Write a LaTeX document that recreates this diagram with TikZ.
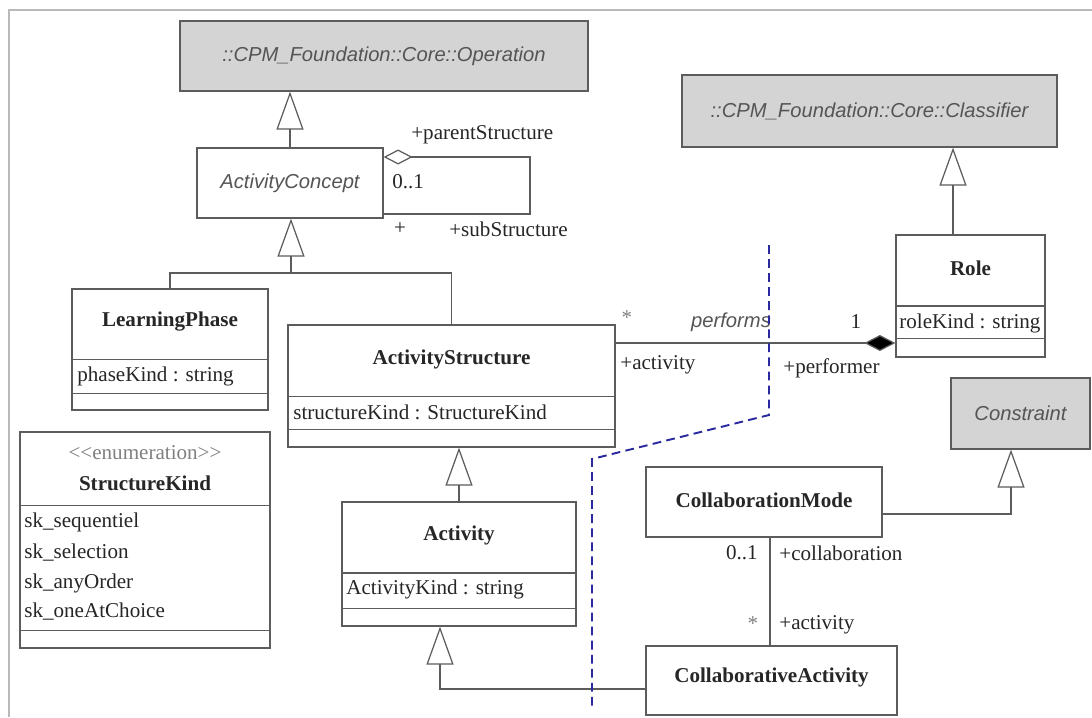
\documentclass[tikz,border=0pt]{standalone}
\usepackage{fontspec}
\setmainfont{Liberation Serif}
\setsansfont{Liberation Sans}
\usepackage{xcolor}
\usepackage{tikz}
\usetikzlibrary{arrows.meta,positioning}

\definecolor{umlline}{HTML}{5C5C5C}
\definecolor{absfill}{HTML}{D4D4D4}
\definecolor{abstext}{HTML}{555555}
\definecolor{cutline}{HTML}{2A2A9E}

\tikzset{
  classbox/.style={draw=umlline, line width=0.7pt, fill=white, inner sep=0pt},
  absbox/.style={classbox, fill=absfill, text=abstext,
    font=\fontsize{11.5}{13}\selectfont\sffamily\itshape},
  cname/.style={font=\fontsize{12}{14}\selectfont\bfseries, text=black!85, inner sep=0pt},
  attr/.style={anchor=west, font=\fontsize{12}{14}\selectfont, text=black!85, inner sep=0pt},
  endlbl/.style={font=\fontsize{12}{14}\selectfont, text=black!85, inner sep=0pt},
  gen/.style={draw=umlline, line width=0.7pt,
    -{Triangle[open, length=7.6mm, width=5.4mm, fill=white]}},
  assoc/.style={draw=umlline, line width=0.7pt},
  cut/.style={draw=cutline, line width=1.1pt, dash pattern=on 5pt off 3pt},
}

\begin{document}
\begin{tikzpicture}[x=0.02cm, y=-0.02cm]
	\useasboundingbox (0,0) rectangle (1092,717);
	% frame
	\draw[gray!55, line width=1.2pt] (9,717) -- (9,10) -- (1092,10);

	% abstract parents
	\node[absbox, minimum width=8.16cm, minimum height=1.4cm] (op) at (384,56)
	     {::CPM\_Foundation::Core::Operation};
	\node[absbox, minimum width=7.5cm, minimum height=1.44cm] (cls) at (869.5,111)
	     {::CPM\_Foundation::Core::Classifier};
	\node[absbox, minimum width=2.78cm, minimum height=1.42cm] (constr) at (1020.5,413.5)
	     {Constraint};
	\node[classbox, text=abstext, font=\fontsize{11.5}{13}\selectfont\sffamily\itshape,
	      minimum width=3.72cm, minimum height=1.4cm] (concept) at (290,183) {ActivityConcept};

	% LearningPhase
	\node[classbox, minimum width=3.92cm, minimum height=2.42cm] (phase) at (170,349.5) {};
	\node[cname] (phase-name) at (170,322) {LearningPhase};
	\node[attr] (phase-kind) at (77,376) {phaseKind : string};
	\draw[umlline] (phase.west |- 0,359) -- (phase.east |- 0,359)
	               (phase.west |- 0,393) -- (phase.east |- 0,393);

	% StructureKind
	\node[classbox, minimum width=5cm, minimum height=4.32cm] (skind) at (145,540) {};
	\node[endlbl, text=gray] (skind-stereo) at (145,453)
	     {<\kern0pt<enumeration>\kern0pt>};
	\node[cname] (skind-name) at (145,483) {StructureKind};
	\draw[umlline] (skind.west |- 0,505) -- (skind.east |- 0,505)
	               (skind.west |- 0,630) -- (skind.east |- 0,630);
	\node[attr] (sk1) at (24,522) {sk\_sequentiel};
	\node[attr] (sk2) at (24,553) {sk\_selection};
	\node[attr] (sk3) at (24,583) {sk\_anyOrder};
	\node[attr] (sk4) at (24,612) {sk\_oneAtChoice};

	% ActivityStructure
	\node[classbox, minimum width=6.54cm, minimum height=2.44cm] (astruct) at (451.5,386) {};
	\node[cname] (astruct-name) at (451.5,359) {ActivityStructure};
	\node[attr] (astruct-kind) at (293,412) {structureKind : StructureKind};
	\draw[umlline] (astruct.west |- 0,396) -- (astruct.east |- 0,396)
	               (astruct.west |- 0,429) -- (astruct.east |- 0,429);

	% Activity
	\node[classbox, minimum width=4.68cm, minimum height=2.48cm] (act) at (459,564) {};
	\node[cname] (act-name) at (459,535) {Activity};
	\node[attr] (act-kind) at (346,589) {ActivityKind : string};
	\draw[umlline, line width=1pt] (act.west |- 0,573) -- (act.east |- 0,573);
	\draw[umlline] (act.west |- 0,608) -- (act.east |- 0,608);

	% Role
	\node[classbox, minimum width=2.98cm, minimum height=2.44cm] (role) at (970.5,296) {};
	\node[cname] (role-name) at (970.5,268) {Role};
	\node[attr] (role-kind) at (899,323) {roleKind : string};
	\draw[umlline, line width=1pt] (role.west |- 0,306) -- (role.east |- 0,306);
	\draw[umlline] (role.west |- 0,338) -- (role.east |- 0,338);

	% collaboration
	\node[classbox, minimum width=4.72cm, minimum height=1.4cm] (cmode) at (764,502) {};
	\node[cname] (cmode-name) at (764,500) {CollaborationMode};
	\node[classbox, minimum width=5.02cm, minimum height=1.38cm] (cact) at (771.5,680.5) {};
	\node[cname] (cact-name) at (771.5,677) {CollaborativeActivity};

	% generalizations
	\coordinate (tree) at (291,273);
	\draw[gen] (concept.north) -- (concept.north |- op.south);
	\draw[assoc] (phase.north) |- (tree) -| (astruct.north);
	\draw[gen] (tree) -- (tree |- concept.south);
	\draw[gen] (act.north) -- (act.north |- astruct.south);
	\draw[gen] (cact.west |- 0,689) -| ([xshift=-0.38cm]act.south);
	\draw[gen] ([xshift=-0.35cm]role.north) -- ([xshift=-0.35cm]role.north |- cls.south);
	\draw[gen] (cmode.east |- 0,514) -| ([xshift=-0.19cm]constr.south);

	% structure aggregation
	\draw[assoc, {Diamond[open, length=5.8mm, width=3mm, fill=white]}-]
	     (concept.east |- 0,157) -- (530,157) -- (530,214) -- (concept.east |- 0,214);
	\node[endlbl, anchor=west] (parent-lbl) at (411,135) {+parentStructure};
	\node[endlbl, anchor=west] (parent-mult) at (392,182) {0..1};
	\node[endlbl] (sub-mult) at (400,229) {+};
	\node[endlbl, anchor=west] (sub-lbl) at (449,229) {+subStructure};

	% performs
	\draw[assoc, {Diamond[length=6.2mm, width=3.2mm, fill=black]}-]
	     (role.west |- 0,343) -- (astruct.east |- 0,343);
	\node[endlbl, text=gray] (perf-star) at (627,318) {*};
	\node[font=\fontsize{11.5}{13}\selectfont\sffamily\itshape, text=abstext, inner sep=0pt]
	     (perf-name) at (731,322) {performs};
	\node[endlbl] (perf-one) at (856,322) {1};
	\node[endlbl, anchor=west] (perf-act) at (620,365) {+activity};
	\node[endlbl, anchor=west] (perf-role) at (783,368) {+performer};

	% collaboration link
	\draw[assoc] (cmode.south -| 770,0) -- (cact.north -| 770,0);
	\node[endlbl, anchor=east] (coll-mult) at (758,553) {0..1};
	\node[endlbl, anchor=west] (coll-lbl) at (779,553) {+collaboration};
	\node[endlbl, text=gray] (cact-star) at (753,624) {*};
	\node[endlbl, anchor=west] (cact-lbl) at (779,625) {+activity};

	% cut line
	\draw[cut] (769,245) -- (769,415) -- (592,459) -- (592,707);
\end{tikzpicture}
\end{document}
